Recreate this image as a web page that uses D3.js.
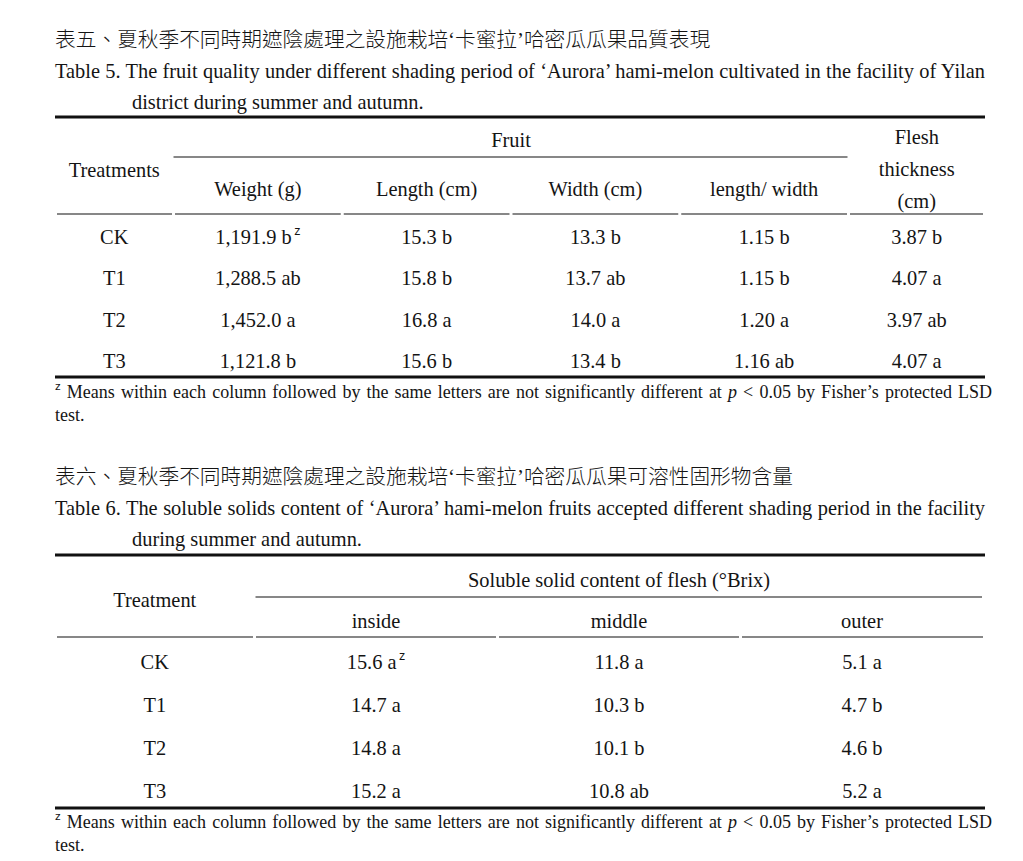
<!DOCTYPE html>
<html>
<head>
<meta charset="utf-8">
<script src="https://cdn.jsdelivr.net/npm/d3@7"></script>
<style>
body{margin:0;background:#fff}
svg text{fill:#141414}
</style>
</head>
<body>
<svg id="chart" width="1023" height="861"></svg>
<script>
// ---- data: table 5 (fruit quality)
var treatments = ["CK","T1","T2","T3"]
var fruitCols = ["Weight (g)","Length (cm)","Width (cm)","length/ width"]
var weight = [1191.9,1288.5,1452.0,1121.8]
var weightSig = ["b","ab","a","b"]
var length = [15.3,15.8,16.8,15.6]
var lengthSig = ["b","b","a","b"]
var width = [13.3,13.7,14.0,13.4]
var widthSig = ["b","ab","a","b"]
var ratio = [1.15,1.15,1.20,1.16]
var ratioSig = ["b","b","a","ab"]
var flesh = [3.87,4.07,3.97,4.07]
var fleshSig = ["b","a","ab","a"]

// ---- data: table 6 (soluble solids)
var brixCols = ["inside","middle","outer"]
var inside = [15.6,14.7,14.8,15.2]
var insideSig = ["a","a","a","a"]
var middle = [11.8,10.3,10.1,10.8]
var middleSig = ["a","b","b","ab"]
var outer = [5.1,4.7,4.6,5.2]
var outerSig = ["a","b","b","a"]

var SERIF = "'Liberation Serif','Times New Roman',serif"
var ZH = "'Liberation Serif','Noto Sans CJK TC',sans-serif"
var SANS = "'Liberation Sans',Arial,sans-serif"
var LEFT = 55, RIGHT = 985

var svg = d3.select("#chart")
svg.append("rect").attr("width",1023).attr("height",861).attr("fill","#fff")

function txt(x,y,s,size,anchor,fam){
    return svg.append("text")
        .attr("x",x).attr("y",y)
        .attr("dominant-baseline","central")
        .attr("text-anchor",anchor||"middle")
        .style("font-family",fam||SERIF)
        .style("font-size",(size||20)+"px")
        .text(s)
}

function hline(x0,x1,y,w){
    svg.append("line").attr("x1",x0).attr("x2",x1).attr("y1",y).attr("y2",y)
        .attr("stroke","#111").attr("stroke-width",w||1.2)
}

//stretch a line of text so it fills the width (justified paragraphs)
function justify(t,target){
    var nat = t.node().getComputedTextLength()
    var spaces = (t.text().match(/ /g)||[]).length
    if(spaces>0 && nat<target) t.style("word-spacing",((target-nat)/spaces)+"px")
}

function title(y,zh,en1,en2){
    txt(LEFT,y,zh,20.7,"start",ZH).style("font-weight",300)
    var l1 = txt(LEFT,y+31,en1,20.4,"start")
    justify(l1,RIGHT-LEFT)
    txt(132,y+62,en2,20.4,"start")
}

function footnote(y){
    var t = svg.append("text").attr("x",LEFT).attr("y",y)
        .attr("dominant-baseline","central")
        .style("font-family",SERIF).style("font-size","18px")
    t.append("tspan").attr("dy",-6).style("font-family",SANS).style("font-size","11.5px").text("z")
    t.append("tspan").attr("dy",6).text(" Means within each column followed by the same letters are not significantly different at ")
    t.append("tspan").style("font-style","italic").text("p")
    t.append("tspan").text(" < 0.05 by Fisher\u2019s protected LSD")
    justify(t,992-LEFT)
    txt(LEFT,y+23,"test.",18,"start")
}

// one column of "value letter" cells; withZ puts the footnote mark on the first row
function valueCol(cx,rowY,vals,sig,fmt,withZ){
    treatments.forEach(function(tr,i){
        var t = txt(cx,rowY(tr)+rowY.bandwidth()/2,fmt(vals[i])+" "+sig[i],20.4)
        if(withZ && i==0){
            t.append("tspan").attr("dy",-6).style("font-family",SANS).style("font-size","12.5px").text("\u2009z")
        }
    })
}

function underlines(edges,y){
    for(var i=0;i<edges.length-1;i++){
        var a = i==0? edges[i]+2 : edges[i]+1.5
        var b = i==edges.length-2? edges[i+1]-2 : edges[i+1]-1.5
        hline(a,b,y)
    }
}

// ===================== TABLE 5
title(40,"表五、夏秋季不同時期遮陰處理之設施栽培‘卡蜜拉’哈密瓜瓜果品質表現",
    "Table 5. The fruit quality under different shading period of \u2018Aurora\u2019 hami-melon cultivated in the facility of Yilan",
    "district during summer and autumn.")

var fruitX = d3.scaleBand().domain(fruitCols).range([173.5,848.5])
var rowY5 = d3.scaleBand().domain(treatments).range([216.5,381.5])
var edges5 = [LEFT].concat(fruitCols.map(function(c){return fruitX(c)}),[fruitX.range()[1],RIGHT])

hline(LEFT,RIGHT,117,3.2)
hline(fruitX.range()[0],fruitX.range()[1]-1,157)
underlines(edges5,214)
hline(LEFT,RIGHT,377,3.2)

txt((fruitX.range()[0]+fruitX.range()[1])/2,140,"Fruit",20.4)
txt((edges5[0]+edges5[1])/2,170,"Treatments",20.4)
fruitCols.forEach(function(c){
    txt(fruitX(c)+fruitX.bandwidth()/2,189,c,20.4)
})
var fleshX = (edges5[5]+edges5[6])/2
txt(fleshX,137,"Flesh",20.4)
txt(fleshX,169,"thickness",20.4)
txt(fleshX,201,"(cm)",20.4)

treatments.forEach(function(tr){
    txt((edges5[0]+edges5[1])/2,rowY5(tr)+rowY5.bandwidth()/2,tr,20.4)
})
var cx5 = function(c){return fruitX(c)+fruitX.bandwidth()/2}
valueCol(cx5(fruitCols[0]),rowY5,weight,weightSig,d3.format(",.1f"),true)
valueCol(cx5(fruitCols[1]),rowY5,length,lengthSig,d3.format(".1f"))
valueCol(cx5(fruitCols[2]),rowY5,width,widthSig,d3.format(".1f"))
valueCol(cx5(fruitCols[3]),rowY5,ratio,ratioSig,d3.format(".2f"))
valueCol(fleshX,rowY5,flesh,fleshSig,d3.format(".2f"))
footnote(392)

// ===================== TABLE 6
title(477,"表六、夏秋季不同時期遮陰處理之設施栽培‘卡蜜拉’哈密瓜瓜果可溶性固形物含量",
    "Table 6. The soluble solids content of \u2018Aurora\u2019 hami-melon fruits accepted different shading period in the facility",
    "during summer and autumn.")

var brixX = d3.scaleBand().domain(brixCols).range([254.5,983.5])
var rowY6 = d3.scaleBand().domain(treatments).range([640.5,812.5])
var edges6 = [LEFT].concat(brixCols.map(function(c){return brixX(c)}),[RIGHT])

hline(LEFT,RIGHT,555,3.2)
hline(brixX.range()[0]+1,brixX.range()[1]-1.5,597)
underlines(edges6,637)
hline(LEFT,RIGHT,808,3.2)

txt((brixX.range()[0]+brixX.range()[1])/2,580,"Soluble solid content of flesh (\u00b0Brix)",20.4)
txt((edges6[0]+edges6[1])/2,600,"Treatment",20.4)
brixCols.forEach(function(c){ txt(brixX(c)+brixX.bandwidth()/2,621,c,20.4) })
treatments.forEach(function(tr){
    txt((edges6[0]+edges6[1])/2,rowY6(tr)+rowY6.bandwidth()/2,tr,20.4)
})
var cx6 = function(c){return brixX(c)+brixX.bandwidth()/2}
var f1 = d3.format(".1f")
valueCol(cx6("inside"),rowY6,inside,insideSig,f1,true)
valueCol(cx6("middle"),rowY6,middle,middleSig,f1)
valueCol(cx6("outer"),rowY6,outer,outerSig,f1)
footnote(822)
</script>
</body>
</html>
